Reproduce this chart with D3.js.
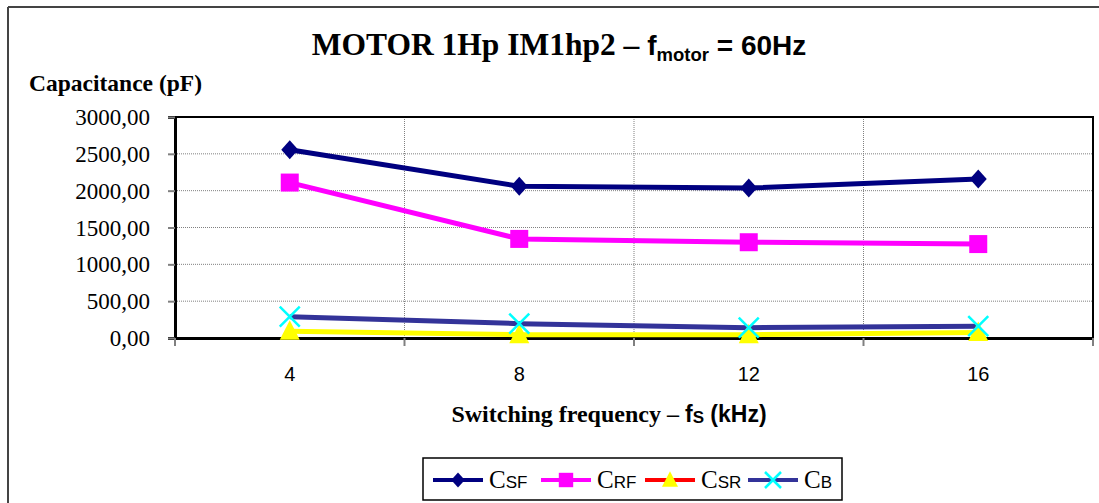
<!DOCTYPE html>
<html>
<head>
<meta charset="utf-8">
<script src="https://cdnjs.cloudflare.com/ajax/libs/d3/7.8.5/d3.min.js"></script>
<style>
  html, body { margin: 0; padding: 0; background: #fff; }
  svg { display: block; }
</style>
</head>
<body>
<svg width="1099" height="503"></svg>
<script>
// dados do gráfico
const categories = ["4", "8", "12", "16"];
const yTicks = [0, 500, 1000, 1500, 2000, 2500, 3000];
const cSF = [2555, 2060, 2035, 2160];
const cRF = [2110, 1345, 1300, 1275];
const cSR = [90, 45, 45, 75];
const cB = [290, 195, 140, 160];

const series = [
    {name: "C", sub: "SF", values: cSF, line: "#000080", legendLine: "#000080", marker: "diamond", fill: "#000080"},
    {name: "C", sub: "RF", values: cRF, line: "#ff00ff", legendLine: "#ff00ff", marker: "square", fill: "#ff00ff"},
    {name: "C", sub: "SR", values: cSR, line: "#ffff00", legendLine: "#ff0000", marker: "triangle", fill: "#ffff00"},
    {name: "C", sub: "B", values: cB, line: "#333399", legendLine: "#333399", marker: "x", fill: "#00ffff"}
];

const serif = "'Liberation Serif', 'Times New Roman', serif";
const sans = "'Liberation Sans', Arial, sans-serif";

let svg = d3.select("svg");

// moldura externa
svg.append("line").attr("x1", 8).attr("y1", 7).attr("x2", 1099).attr("y2", 7)
    .attr("stroke", "#444").attr("stroke-width", 2);
svg.append("line").attr("x1", 8).attr("y1", 7).attr("x2", 8).attr("y2", 503)
    .attr("stroke", "#444").attr("stroke-width", 2);

// área do gráfico
const plotL = 175, plotR = 1093, plotT = 117, plotB = 338;

let x = d3.scaleBand().domain(categories).range([plotL, plotR]).padding(0);
let y = d3.scaleLinear().domain([0, 3000]).range([plotB, plotT]);

const locale = d3.formatLocale({decimal: ",", thousands: "", grouping: [3], currency: ["", ""]});
const fmt = locale.format(".2f");

// linhas de grade horizontais
svg.append("g").selectAll("line")
    .data(yTicks.filter(d => d > 0 && d < 3000))
    .enter().append("line")
    .attr("x1", plotL).attr("x2", plotR)
    .attr("y1", d => y(d)).attr("y2", d => y(d))
    .attr("stroke", "#808080").attr("stroke-width", 1)
    .attr("stroke-dasharray", "1,1");

// linhas de grade verticais
svg.append("g").selectAll("line")
    .data(categories.slice(1))
    .enter().append("line")
    .attr("x1", d => x(d)).attr("x2", d => x(d))
    .attr("y1", plotT).attr("y2", plotB)
    .attr("stroke", "#808080").attr("stroke-width", 1)
    .attr("stroke-dasharray", "1,1");

// borda da área do gráfico
svg.append("rect")
    .attr("x", plotL).attr("y", plotT)
    .attr("width", plotR - plotL).attr("height", plotB - plotT)
    .attr("fill", "none").attr("stroke", "#000").attr("stroke-width", 2);

// eixo Y
let yAxis = svg.append("g")
    .attr("transform", "translate(" + plotL + ",0)")
    .call(d3.axisLeft(y).tickValues(yTicks).tickFormat(fmt).tickSize(7).tickPadding(18));
yAxis.select(".domain").attr("stroke", "#000").attr("stroke-width", 3);
yAxis.selectAll(".tick line").attr("stroke", "#808080").attr("stroke-width", 2);
yAxis.selectAll("text")
    .attr("font-family", serif).attr("font-size", 23).attr("fill", "#000")
    .attr("dy", "0.33em");

// eixo X
let xAxis = svg.append("g")
    .attr("transform", "translate(0," + plotB + ")")
    .call(d3.axisBottom(x).tickValues([]).tickSize(0));
xAxis.select(".domain").attr("stroke", "#000").attr("stroke-width", 3);
xAxis.selectAll(".xt").data(categories.concat(["__end"])).enter().append("line")
    .attr("x1", (d, i) => plotL + i * x.bandwidth())
    .attr("x2", (d, i) => plotL + i * x.bandwidth())
    .attr("y1", 0).attr("y2", 8)
    .attr("stroke", "#808080").attr("stroke-width", 2);
xAxis.selectAll(".xl").data(categories).enter().append("text")
    .attr("x", d => x(d) + x.bandwidth() / 2)
    .attr("y", 43)
    .attr("text-anchor", "middle")
    .attr("font-family", sans).attr("font-size", 20).attr("fill", "#000")
    .text(d => d);

// título
let title = svg.append("text")
    .attr("x", 559).attr("y", 55)
    .attr("text-anchor", "middle")
    .attr("font-weight", "bold").attr("fill", "#000");
title.append("tspan").attr("font-family", serif).attr("font-size", 31.5).text("MOTOR 1Hp IM1hp2 – ");
title.append("tspan").attr("font-family", sans).attr("font-size", 28).text("f");
title.append("tspan").attr("font-family", sans).attr("font-size", 18.5).attr("dy", 6).text("motor");
title.append("tspan").attr("font-family", sans).attr("font-size", 28).attr("dy", -6).text(" = 60Hz");

// título do eixo Y
svg.append("text")
    .attr("x", 29).attr("y", 91)
    .attr("font-family", serif).attr("font-size", 23.5).attr("font-weight", "bold")
    .text("Capacitance (pF)");

// título do eixo X
let xTitle = svg.append("text")
    .attr("x", 609).attr("y", 422)
    .attr("text-anchor", "middle")
    .attr("font-weight", "bold");
xTitle.append("tspan").attr("font-family", serif).attr("font-size", 24).text("Switching frequency – ");
xTitle.append("tspan").attr("font-family", sans).attr("font-size", 23).text("f");
xTitle.append("tspan").attr("font-family", sans).attr("font-size", 17).attr("dy", 1).text("S");
xTitle.append("tspan").attr("font-family", sans).attr("font-size", 23).attr("dy", -1).text(" (kHz)");

// desenha marcador
function drawMarker(g, type, cx, cy, fill, scale) {
    let s = scale || 1;
    if (type === "diamond") {
        g.append("path")
            .attr("d", "M" + cx + "," + (cy - 9.5 * s) + "L" + (cx + 8.5 * s) + "," + cy + "L" + cx + "," + (cy + 9.5 * s) + "L" + (cx - 8.5 * s) + "," + cy + "Z")
            .attr("fill", fill);
    } else if (type === "square") {
        g.append("rect")
            .attr("x", cx - 9 * s).attr("y", cy - 9 * s)
            .attr("width", 18 * s).attr("height", 18 * s)
            .attr("fill", fill);
    } else if (type === "triangle") {
        g.append("path")
            .attr("d", "M" + cx + "," + (cy - 11 * s) + "L" + (cx + 10 * s) + "," + (cy + 8.5 * s) + "L" + (cx - 10 * s) + "," + (cy + 8.5 * s) + "Z")
            .attr("fill", fill);
    } else if (type === "x") {
        let r = 10 * s;
        g.append("path")
            .attr("d", "M" + (cx - r) + "," + (cy - r) + "L" + (cx + r) + "," + (cy + r) + "M" + (cx - r) + "," + (cy + r) + "L" + (cx + r) + "," + (cy - r))
            .attr("stroke", fill).attr("stroke-width", 2.5).attr("fill", "none");
    }
}

// linhas das séries
let lineGen = d3.line()
    .x((d, i) => x(categories[i]) + x.bandwidth() / 2)
    .y(d => y(d));

let seriesG = svg.append("g");
series.forEach(s => {
    seriesG.append("path")
        .datum(s.values)
        .attr("d", lineGen)
        .attr("fill", "none")
        .attr("stroke", s.line)
        .attr("stroke-width", 5)
        .attr("stroke-linejoin", "round");
});
series.forEach(s => {
    s.values.forEach((v, i) => {
        drawMarker(seriesG, s.marker, x(categories[i]) + x.bandwidth() / 2, y(v), s.fill, 1);
    });
});

// legenda
let legend = svg.append("g");
legend.append("rect")
    .attr("x", 423).attr("y", 458).attr("width", 419).attr("height", 42)
    .attr("fill", "#fff").attr("stroke", "#000").attr("stroke-width", 1.5);
const legendX = [433, 541, 645, 748];
series.forEach((s, i) => {
    let lx = legendX[i], ly = 480;
    legend.append("line")
        .attr("x1", lx).attr("x2", lx + 50)
        .attr("y1", ly).attr("y2", ly)
        .attr("stroke", s.legendLine).attr("stroke-width", 4);
    drawMarker(legend, s.marker, lx + 25, ly, s.fill, 0.8);
    let t = legend.append("text").attr("x", lx + 56).attr("y", 488);
    t.append("tspan").attr("font-family", serif).attr("font-size", 25).text(s.name);
    t.append("tspan").attr("font-family", sans).attr("font-size", 17).text(s.sub);
});
</script>
</body>
</html>
